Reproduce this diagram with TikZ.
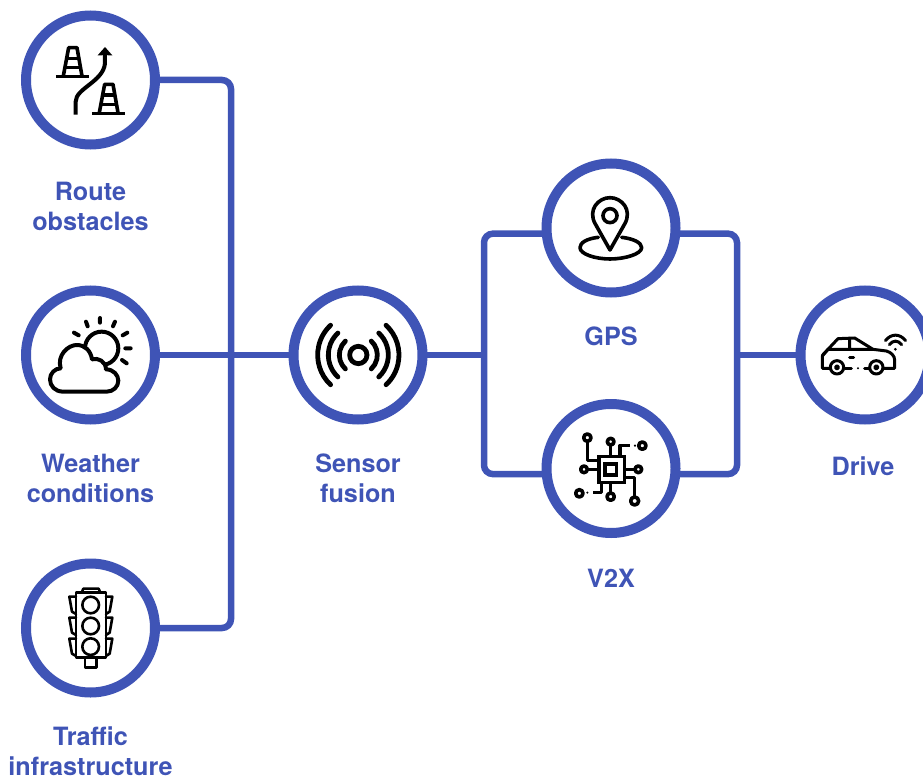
\documentclass[tikz,border=0pt]{standalone}
\usepackage{fontspec}
\setmainfont{TeX Gyre Heros}
\definecolor{brand}{HTML}{3F54B6}
\tikzset{
  ring/.style={circle,draw=brand,line width=10pt,fill=white,minimum size=129pt,inner sep=0pt,outer sep=0pt},
  link/.style={draw=brand,line width=6.5pt,rounded corners=9pt},
  caption/.style={text=brand,font=\fontsize{25.2}{30}\selectfont\bfseries,align=center,inner sep=0pt},
  icon/.style={x=0.3333pt,y=-0.3333pt,black,line width=3.6pt,line join=round,line cap=round},
  thinicon/.style={icon,line width=2.6pt},
}
\begin{document}
\begin{tikzpicture}[x=1pt,y=-1pt]
\useasboundingbox (0,0) rectangle (923,778);
\clip (0,0) rectangle (923,778);
\coordinate (hub) at (231,355);
\coordinate (split) at (484,355);
\coordinate (merge) at (737,355);
\node[ring] (route) at (90.5,80) {};
\node[ring] (weather) at (90.5,355) {};
\node[ring] (traffic) at (90.5,628) {};
\node[ring] (sensor) at (358,355) {};
\node[ring] (gps) at (611,228) {};
\node[ring] (v2x) at (611,468.5) {};
\node[ring] (drive) at (865,355) {};
% connectors
\path[link] (route.east) -| (hub);
\path[link] (traffic.east) -| (hub);
\path[link] (weather.east) -- (sensor.west);
\path[link] (sensor.east) -- (split);
\path[link] (gps.185) -| (split) |- (v2x.185);
\path[link] (gps.-5) -| (merge) |- (v2x.-5);
\path[link] (merge) -- (drive.west);
% captions
\node[caption] (routeT) at (90.5,206) {Route\\obstacles};
\node[caption] (weatherT) at (90.5,478) {Weather\\conditions};
\node[caption] (trafficT) at (90.5,751.5) {Traffic\\infrastructure};
\node[caption] (sensorT) at (358,478) {Sensor\\fusion};
\node[caption] (gpsT) at (611,336) {GPS};
\node[caption] (v2xT) at (611,578) {V2X};
\node[caption] (driveT) at (863,466) {Drive};
% route icon
\begin{scope}[icon]
 \foreach \dx/\dy in {0/0,108/110}{
  \begin{scope}[shift={(\dx,\dy)}]
  \draw[line cap=butt] (168,230) -- (267,230);
  \draw[line cap=butt] (190,228) -- (206,143) -- (231,143) -- (246,228);
  \draw[line cap=butt] (200,175) -- (236,175) (196,203) -- (241,203);
  \end{scope}
 }
 \draw[line cap=butt,line width=4pt] (227,344) -- (227,305) .. controls (227,265) and (310,245) .. (315,190) -- (315,155);
 \fill (293,166) -- (315,141) -- (337,166) -- (323,166) -- (315,157) -- (307,166) -- cycle;
\end{scope}
% weather icon
\begin{scope}[icon,yshift=-280pt,line width=4pt]
 \draw (305,205) circle[radius=50];
 \draw (300,114) -- (300,128) (258,125) -- (263,139) (345,125) -- (339,139) (222,158) -- (236,166)
       (382,158) -- (368,166) (376,205) -- (392,205) (366,240) -- (380,250);
 \draw[fill=white] (190,335) .. controls (165,335) and (150,318) .. (150,298)
   .. controls (150,280) and (165,265) .. (182,265)
   .. controls (170,225) and (205,195) .. (230,195)
   .. controls (255,195) and (272,212) .. (276,238)
   .. controls (295,232) and (318,245) .. (318,268)
   .. controls (340,268) and (355,285) .. (355,302)
   .. controls (355,320) and (340,335) .. (320,335) -- cycle;
\end{scope}
% traffic light icon
\begin{scope}[thinicon,yshift=-550pt]
 \draw (228,128) rectangle (318,322);
 \draw (245,128) -- (250,116) -- (296,116) -- (301,128);
 \draw (255,322) rectangle (290,352);
 \foreach \yy in {165,228,290}{\draw (272,\yy) circle[radius=25];}
 \foreach \yy in {0,63,126}{
  \draw[shift={(0,\yy)}] (228,140) -- (208,140) -- (216,185) -- (228,192);
  \draw[shift={(0,\yy)}] (318,140) -- (337,140) -- (329,185) -- (318,192);
 }
\end{scope}
% sensor icon
\begin{scope}[icon,xshift=280pt,yshift=-280pt,line width=4.8pt]
 \draw (235,225) circle[radius=26];
 \foreach \r in {57,90,122}{
  \draw (235,225) +(133:\r) arc[start angle=133,end angle=227,radius=\r];
  \draw (235,225) +(-47:\r) arc[start angle=-47,end angle=47,radius=\r];
 }
\end{scope}
% gps icon
\begin{scope}[icon,xshift=530pt,yshift=-150pt]
 \draw (240,300) -- (196,222) .. controls (172,180) and (205,143) .. (240,143)
   .. controls (275,143) and (308,180) .. (284,222) -- cycle;
 \draw (240,197) circle[radius=21];
 \draw (205,262) .. controls (170,266) and (150,278) .. (150,293)
   .. controls (150,312) and (195,327) .. (240,327)
   .. controls (285,327) and (335,312) .. (335,293)
   .. controls (335,278) and (310,266) .. (275,262);
\end{scope}
% v2x icon
\begin{scope}[icon,xshift=530pt,yshift=-385pt]
 \draw[line cap=butt,line join=miter] (207,215) rectangle (283,292);
 \draw[line cap=butt,line join=miter] (225,237) rectangle (260,270);
 \draw (172,158) circle[radius=11] (242,170) circle[radius=10] (337,182) circle[radius=11]
       (162,253) circle[radius=10] (325,253) circle[radius=10] (148,325) circle[radius=11]
       (242,335) circle[radius=11] (314,348) circle[radius=12];
 \draw[line cap=butt] (172,169) -- (172,227) -- (207,227) (242,180) -- (242,215)
   (270,215) -- (270,182) -- (300,182) (173,253) -- (207,253) (283,253) -- (315,253)
   (283,278) -- (314,278) -- (314,336) (242,292) -- (242,324)
   (215,292) -- (215,323) -- (188,323);
 \fill (315,182) circle[radius=3.5] (172,323) circle[radius=3.5];
\end{scope}
% drive icon
\begin{scope}[thinicon,xshift=783pt,yshift=-280pt,line width=3pt]
 \draw (140,265) -- (118,265) -- (118,228) -- (135,208) -- (165,176) -- (215,174) -- (270,208) -- (310,213)
   .. controls (325,217) and (335,228) .. (335,240) -- (335,265) -- (303,265);
 \draw (118,226) -- (135,208) -- (270,208) (200,175) -- (200,208);
 \draw (162,262) circle[radius=20] (280,262) circle[radius=20];
 \draw (162,262) circle[radius=5] (280,262) circle[radius=5];
 \draw (186,265) -- (205,265) (245,265) -- (258,265);
 \draw (200,232) -- (212,232);
 \fill (225,265) circle[radius=3.5];
 \draw (307,182) .. controls (325,160) and (350,160) .. (368,182);
 \draw (319,194) .. controls (330,180) and (345,180) .. (356,194);
 \fill (337,208) circle[radius=4.5];
\end{scope}
\end{tikzpicture}
\end{document}
